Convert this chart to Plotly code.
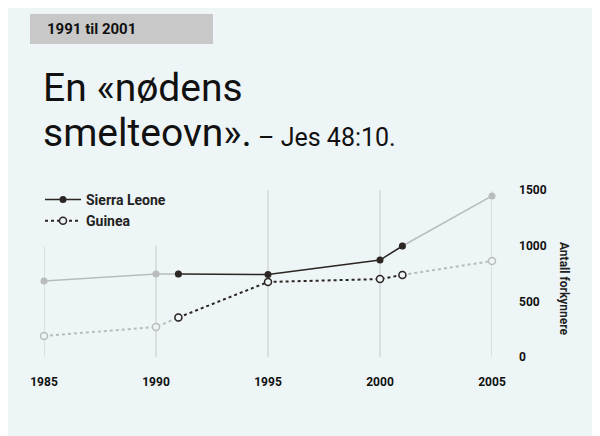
import plotly.graph_objects as go

years = [1985, 1990, 1991, 1995, 2000, 2001, 2005]
sierra_leone = [683, 745, 745, 740, 871, 997, 1446]
guinea = [189, 270, 355, 674, 700, 737, 862]
x_ticks = [1985, 1990, 1995, 2000, 2005]
y_ticks = [0, 500, 1000, 1500]

DARK = "#2b2523"
GREY = "#b8bcbc"
BG = "#eef5f6"
FONT = "Roboto"

fig = go.Figure()

# grey outer parts (1985-1991, 2001-2005), dark inner part (1991-2001)
for sl in (slice(0, 3), slice(5, 7)):
    fig.add_trace(go.Scatter(x=years[sl], y=sierra_leone[sl], mode="lines+markers",
                             line=dict(color=GREY, width=1.5), marker=dict(size=7, color=GREY),
                             showlegend=False))
    fig.add_trace(go.Scatter(x=years[sl], y=guinea[sl], mode="lines+markers",
                             line=dict(color=GREY, width=2, dash="dot"),
                             marker=dict(size=7, color=BG, line=dict(color=GREY, width=1.5)),
                             showlegend=False))
fig.add_trace(go.Scatter(x=years[2:6], y=sierra_leone[2:6], mode="lines+markers", name="<b>Sierra Leone</b>",
                         line=dict(color=DARK, width=1.5), marker=dict(size=7, color=DARK)))
fig.add_trace(go.Scatter(x=years[2:6], y=guinea[2:6], mode="lines+markers", name="<b>Guinea</b>",
                         line=dict(color=DARK, width=2, dash="dot"),
                         marker=dict(size=7, color=BG, line=dict(color=DARK, width=1.5))))

# vertical guide lines
for yr in x_ticks:
    top = 1000 if yr < 1995 else 1500
    fig.add_shape(type="line", x0=yr, x1=yr, y0=-20, y1=top, xref="x", yref="y",
                  line=dict(color="#c6caca", width=1), layer="below")

fig.add_shape(type="rect", xref="paper", yref="paper",
              x0=(30 - 44) / 448, x1=(213 - 44) / 448,
              y0=(357 - 44) / 167, y1=(357 - 14) / 167,
              fillcolor="#c8c8c8", line=dict(width=0))

fig.add_annotation(text="<b>1991 til 2001</b>", xref="paper", yref="paper",
                   x=(45 - 44) / 448, y=(357 - 29) / 167, xanchor="left", yanchor="middle",
                   showarrow=False, font=dict(family=FONT, size=15, color="#111"))
fig.add_annotation(text="En «nødens", xref="paper", yref="paper",
                   x=(41 - 44) / 448, y=(357 - 88) / 167, xanchor="left", yanchor="middle",
                   showarrow=False, font=dict(family=FONT, size=39, color="#111"))
fig.add_annotation(text="smelteovn».<span style='font-size:25px'> – Jes 48:10.</span>",
                   xref="paper", yref="paper",
                   x=(41 - 44) / 448, y=(357 - 133) / 167, xanchor="left", yanchor="middle",
                   showarrow=False, font=dict(family=FONT, size=39, color="#111"))
fig.add_annotation(text="<b>Antall forkynnere</b>", xref="paper", yref="paper",
                   x=(573 - 44) / 448, y=(357 - 240) / 167, textangle=90,
                   showarrow=False, font=dict(family=FONT, size=12, color="#222"))

fig.update_layout(
    width=600, height=436,
    margin=dict(l=36, r=116, t=182, b=87),
    paper_bgcolor=BG, plot_bgcolor=BG,
    font=dict(family=FONT, color="#222"),
    legend=dict(x=(40 - 44) / 448, y=(357 - 184) / 167, xanchor="left", yanchor="top",
                bgcolor="rgba(0,0,0,0)", font=dict(family=FONT, size=14, color="#222"),
                itemwidth=36, tracegroupgap=2),
    xaxis=dict(range=[1985, 2005], tickvals=x_ticks, showgrid=False, zeroline=False,
               showline=False, ticks="", ticklabelstandoff=16,
               tickfont=dict(family=FONT, size=12, color="#111", weight="bold"),
               automargin=False),
    yaxis=dict(range=[0, 1500], tickvals=y_ticks, side="right", showgrid=False,
               zeroline=False, showline=False, ticks="", ticklabelstandoff=26,
               tickfont=dict(family=FONT, size=12, color="#111", weight="bold"),
               automargin=False),
)
for tr in fig.data:
    tr.cliponaxis = False

fig.write_html("out.html")
